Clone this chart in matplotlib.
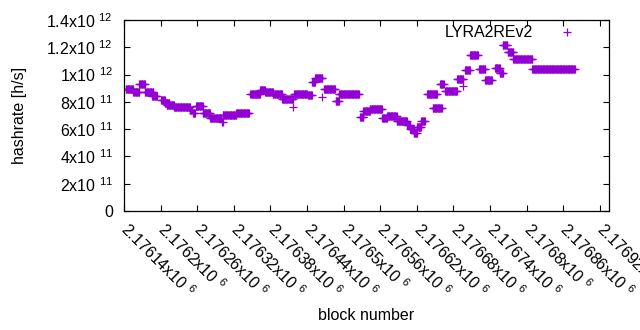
import numpy as np
import matplotlib.pyplot as plt

plt.rcParams['font.family'] = ['Liberation Sans', 'DejaVu Sans']
plt.rcParams['mathtext.fontset'] = 'custom'
plt.rcParams['mathtext.rm'] = 'Liberation Sans'
plt.rcParams['mathtext.it'] = 'Liberation Sans:italic'
plt.rcParams['mathtext.bf'] = 'Liberation Sans:bold'

# runs of constant hashrate:
# first block, last block, hashrate in units of 1e11 h/s
run_first = [2176143, 2176155, 2176165, 2176174, 2176186, 2176201, 2176207, 2176210,
             2176222, 2176248, 2176253, 2176258, 2176269, 2176281, 2176301, 2176302,
             2176324, 2176347, 2176363, 2176371, 2176384, 2176399, 2176417, 2176419,
             2176442, 2176448, 2176453, 2176465, 2176468, 2176487, 2176492, 2176527,
             2176532, 2176543, 2176563, 2176571, 2176587, 2176604, 2176609, 2176615,
             2176620, 2176627, 2176637, 2176646, 2176658, 2176666, 2176686, 2176696,
             2176699, 2176707, 2176722, 2176732, 2176748, 2176756, 2176761, 2176769,
             2176778, 2176809]
run_last = [2176155, 2176165, 2176174, 2176188, 2176194, 2176207, 2176214, 2176222,
            2176248, 2176251, 2176256, 2176269, 2176281, 2176299, 2176302, 2176324,
            2176345, 2176363, 2176371, 2176384, 2176399, 2176417, 2176417, 2176440,
            2176448, 2176453, 2176465, 2176465, 2176486, 2176492, 2176525, 2176532,
            2176543, 2176563, 2176571, 2176587, 2176604, 2176609, 2176615, 2176620,
            2176627, 2176633, 2176653, 2176661, 2176664, 2176686, 2176696, 2176696,
            2176707, 2176720, 2176732, 2176743, 2176756, 2176761, 2176768, 2176778,
            2176809, 2176879]
run_rate = [8.94, 8.72, 9.31, 8.72, 8.43, 8.14, 7.92, 7.77,
            7.62, 7.40, 7.18, 7.70, 7.18, 6.82, 6.52, 7.04,
            7.18, 8.58, 8.87, 8.72, 8.58, 8.21, 7.62, 8.58,
            8.50, 9.46, 9.75, 8.36, 8.94, 8.06, 8.58, 6.89,
            7.33, 7.48, 6.82, 6.96, 6.60, 6.30, 6.01, 5.72,
            6.16, 6.60, 8.58, 7.55, 9.31, 8.80, 9.68, 9.16,
            10.34, 11.44, 10.41, 9.60, 10.48, 10.12, 12.17, 11.66,
            11.14, 10.41]

xtick_values = [2176140, 2176200, 2176260, 2176320, 2176380, 2176440, 2176500,
                2176560, 2176620, 2176680, 2176740, 2176800, 2176860, 2176920]
xtick_text = ['2.17614', '2.1762', '2.17626', '2.17632', '2.17638', '2.17644', '2.1765',
              '2.17656', '2.17662', '2.17668', '2.17674', '2.1768', '2.17686', '2.17692']
ytick_values = [0, 2e11, 4e11, 6e11, 8e11, 1e12, 1.2e12, 1.4e12]
ytick_text = ['0', '2x10 $^{11}$', '4x10 $^{11}$', '6x10 $^{11}$', '8x10 $^{11}$',
              '1x10 $^{12}$', '1.2x10 $^{12}$', '1.4x10 $^{12}$']

# one point per block inside each run
blocks = np.concatenate([np.arange(a, b + 1) for a, b in zip(run_first, run_last)])
rates = np.concatenate([np.full(b - a + 1, r) for a, b, r in zip(run_first, run_last, run_rate)]) * 1e11

fs = 11.5
fig = plt.figure(figsize=(6.4, 3.3), dpi=100)
ax = fig.add_axes([124 / 640, 1 - 211 / 330, (609 - 124) / 640, (211 - 20) / 330])

ax.plot(blocks, rates, linestyle='none', marker='+', markersize=5.5, markeredgewidth=0.9,
        color='#9400d3', label='LYRA2REv2')

ax.set_xlim(2176140, 2176935)
ax.set_ylim(0, 1.4e12)
ax.set_xticks(xtick_values)
ax.set_xticklabels([t + 'x10 $^{6}$' for t in xtick_text], rotation=-45, ha='left', va='center',
                   rotation_mode='anchor', fontsize=fs)
ax.set_yticks(ytick_values)
ax.set_yticklabels(ytick_text, fontsize=fs)
ax.tick_params(direction='in', top=True, right=True, length=4, width=0.8)
ax.tick_params(axis='x', pad=11)
ax.tick_params(axis='y', pad=8)
for s in ax.spines.values():
    s.set_linewidth(0.9)

ax.set_xlabel('block number', fontsize=fs, labelpad=5)
ax.set_ylabel('hashrate [h/s]', fontsize=fs, labelpad=14)

ax.legend(loc='upper right', frameon=False, markerfirst=False, fontsize=fs,
          handlelength=2.5, handletextpad=0.9, borderpad=0, borderaxespad=0,
          bbox_to_anchor=(0.955, 0.972))

fig.savefig('out.png', dpi=100)
